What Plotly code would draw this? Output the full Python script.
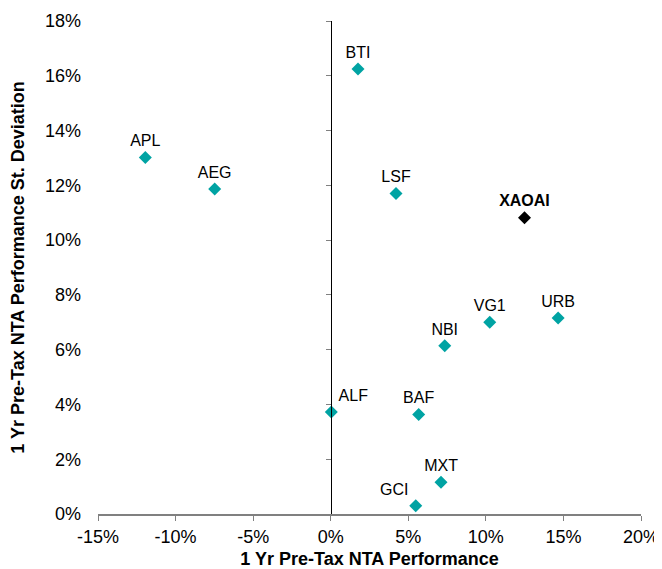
import plotly.graph_objects as go

names = ["APL", "AEG", "BTI", "LSF", "VG1", "URB", "NBI", "ALF", "BAF", "MXT", "GCI"]
perf = [-11.95, -7.48, 1.76, 4.21, 10.25, 14.66, 7.35, 0.04, 5.67, 7.11, 5.48]
stdev = [13.02, 11.87, 16.25, 11.70, 7.00, 7.16, 6.14, 3.72, 3.63, 1.16, 0.30]
label_pos = ["top center", "top center", "top center", "top center", "top center",
             "top center", "top center", "top right", "top center", "top center",
             "top left"]

bench_name = ["XAOAI"]
bench_perf = [12.49]
bench_stdev = [10.82]

x_ticks = [-15, -10, -5, 0, 5, 10, 15, 20]
y_ticks = [0, 2, 4, 6, 8, 10, 12, 14, 16, 18]

FONT = "Liberation Sans, Arial, sans-serif"
TEAL = "#00A3A3"

fig = go.Figure()
fig.add_trace(go.Scatter(
    x=perf, y=stdev, mode="markers+text", text=names,
    textposition=label_pos,
    textfont=dict(family=FONT, size=16, color="#000000"),
    marker=dict(symbol="diamond", size=10, color=TEAL),
    cliponaxis=False, showlegend=False,
))
fig.add_trace(go.Scatter(
    x=bench_perf, y=bench_stdev, mode="markers+text",
    text=["<b>" + n + "</b>" for n in bench_name],
    textposition="top center",
    textfont=dict(family=FONT, size=16, color="#000000"),
    marker=dict(symbol="diamond", size=10, color="#000000"),
    cliponaxis=False, showlegend=False,
))
# invisible trace so that the zero-crossing y axis is drawn
fig.add_trace(go.Scatter(x=[None], y=[None], yaxis="y2", showlegend=False,
                         hoverinfo="skip"))

x_min, x_max = x_ticks[0], x_ticks[-1]
zero_pos = (0 - x_min) / (x_max - x_min)

fig.update_layout(
    width=654, height=561,
    margin=dict(l=90, r=21, t=13, b=55, autoexpand=False),
    paper_bgcolor="white", plot_bgcolor="white",
    font=dict(family=FONT, size=18, color="#000000"),
    xaxis=dict(
        range=[x_min, x_max], tickvals=x_ticks,
        ticktext=[f"{v}%" for v in x_ticks],
        showgrid=False, zeroline=False, automargin=False,
        showline=True, linecolor="#808080", linewidth=2,
        ticks="outside", ticklen=5, tickcolor="#808080", tickwidth=1,
        tickfont=dict(family=FONT, size=18),
        title=dict(text="<b>1 Yr Pre-Tax NTA Performance</b>",
                   font=dict(family=FONT, size=18)),
    ),
    yaxis=dict(
        range=[y_ticks[0], y_ticks[-1]], tickvals=y_ticks,
        ticktext=[f"{v}%" for v in y_ticks],
        showgrid=False, zeroline=False, showline=False, automargin=False,
        ticks="", ticklabelstandoff=16,
        tickfont=dict(family=FONT, size=18),
        title=dict(text="<b>1 Yr Pre-Tax NTA Performance St. Deviation</b>",
                   font=dict(family=FONT, size=18)),
    ),
    yaxis2=dict(
        overlaying="y", anchor="free", position=zero_pos, side="left",
        range=[y_ticks[0], y_ticks[-1]], tickvals=y_ticks,
        showticklabels=False, showgrid=False, zeroline=False, automargin=False,
        showline=True, linecolor="#000000", linewidth=1,
        ticks="outside", ticklen=5, tickcolor="#808080", tickwidth=1,
    ),
)

fig.write_html("out.html")
